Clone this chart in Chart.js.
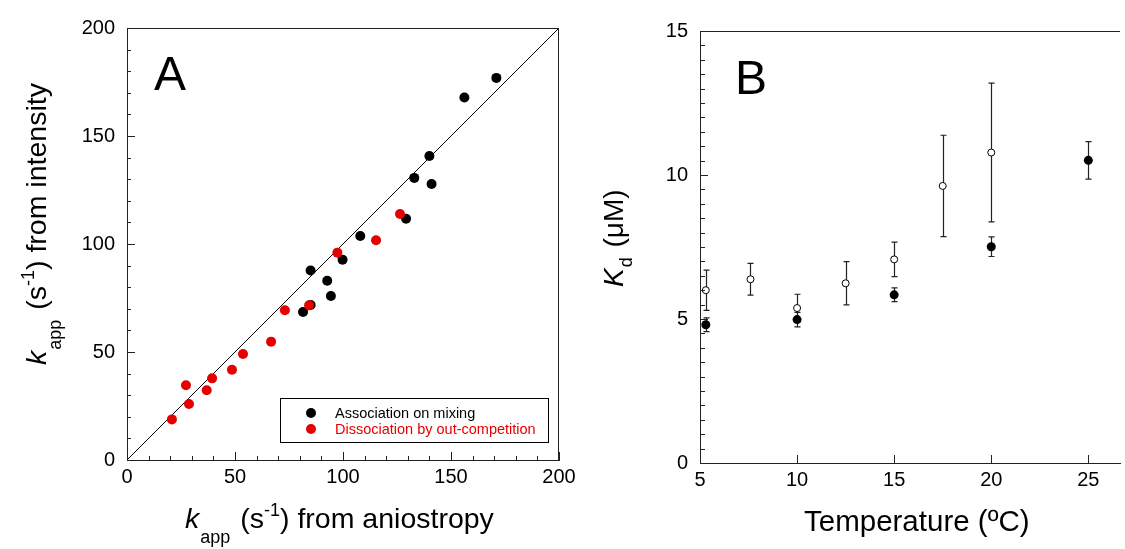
<!DOCTYPE html>
<html>
<head>
<meta charset="utf-8">
<script src="https://cdn.jsdelivr.net/npm/chart.js@4.4.1/dist/chart.umd.min.js"></script>
<style>
  body { margin: 0; background: #fff; }
  #wrapA { position: absolute; left: 0; top: 0; width: 600px; height: 549px; }
  #wrapB { position: absolute; left: 590px; top: 0; width: 535px; height: 549px; }
</style>
</head>
<body>
<div id="wrapA"><canvas id="chartA" width="600" height="549"></canvas></div>
<div id="wrapB"><canvas id="chartB" width="535" height="549"></canvas></div>
<script>
// Panel A: k_app from aniostropy (x) vs from intensity (y)
const assocX = [171.0, 156.2, 140.0, 133.0, 141.0, 129.2, 108.0, 99.8, 85.0, 92.7, 94.4, 85.0, 81.5];
const assocY = [176.9, 167.8, 140.7, 130.6, 127.8, 111.7, 103.7, 92.7, 87.7, 83.0, 75.9, 71.8, 68.5];
const dissX = [126.4, 115.3, 97.4, 73.1, 84.3, 66.7, 53.7, 48.6, 39.4, 27.3, 36.9, 28.7, 20.8];
const dissY = [113.9, 101.7, 96.0, 69.3, 71.6, 54.8, 49.1, 41.8, 37.8, 34.6, 32.3, 25.9, 18.8];
const diagLine = [0, 200];
const ticksA = [0, 50, 100, 150, 200];

// Panel B: Kd vs temperature
const tempOpen = [5.3, 7.6, 10, 12.5, 15, 17.5, 20];
const kdOpen = [6.0, 6.38, 5.38, 6.24, 7.07, 9.62, 10.78];
const errOpen = [0.7, 0.55, 0.48, 0.75, 0.6, 1.76, 2.41];
const tempFilled = [5.3, 10, 15, 20, 25];
const kdFilled = [4.8, 4.98, 5.84, 7.51, 10.51];
const errFilled = [0.24, 0.25, 0.24, 0.34, 0.65];
const ticksBx = [5, 10, 15, 20, 25];
const ticksBy = [0, 5, 10, 15];

const FONT = "'Liberation Sans', Arial, sans-serif";
const RED = '#e60000';

function drawRich(ctx, parts, x, y) {
  let cx = x;
  parts.forEach(p => {
    ctx.font = p.font + ' ' + FONT;
    cx += p.dx || 0;
    ctx.fillText(p.t, cx, y + (p.dy || 0));
    cx += ctx.measureText(p.t).width;
  });
}

function isMajor(v, major) {
  return Math.abs(v / major - Math.round(v / major)) < 1e-6;
}

// frame, inner ticks, axis titles and panel letter
const decor = {
  id: 'decor',
  afterDraw(chart, args, o) {
    const {ctx, chartArea: a, scales: {x, y}} = chart;
    ctx.save();
    ctx.strokeStyle = '#444';
    ctx.lineWidth = 1;
    ctx.beginPath();
    ctx.moveTo(a.left, Math.round(a.top) + 0.5);
    ctx.lineTo(a.right, Math.round(a.top) + 0.5);
    if (o.rightFrame) {
      ctx.moveTo(Math.round(a.right) - 0.5, a.top);
      ctx.lineTo(Math.round(a.right) - 0.5, a.bottom);
    }
    // inner ticks
    ctx.strokeStyle = '#222';
    for (let v = x.min; v <= x.max + 1e-6; v += o.xMinor) {
      const px = Math.round(x.getPixelForValue(v)) + 0.5;
      const len = isMajor(v, o.xMajor) ? o.majorLen : o.minorLen;
      ctx.moveTo(px, a.bottom);
      ctx.lineTo(px, a.bottom - len);
    }
    for (let v = y.min; v <= y.max + 1e-6; v += o.yMinor) {
      const py = Math.round(y.getPixelForValue(v)) + 0.5;
      const len = isMajor(v, o.yMajor) ? o.majorLen : o.minorLen;
      ctx.moveTo(a.left, py);
      ctx.lineTo(a.left + len, py);
    }
    ctx.stroke();

    ctx.fillStyle = '#000';
    ctx.textAlign = 'left';
    ctx.textBaseline = 'alphabetic';
    drawRich(ctx, o.xTitle, o.xTitleAt[0], o.xTitleAt[1]);
    ctx.save();
    ctx.translate(o.yTitleAt[0], o.yTitleAt[1]);
    ctx.rotate(-Math.PI / 2);
    drawRich(ctx, o.yTitle, 0, 0);
    ctx.restore();

    ctx.font = '48px ' + FONT;
    ctx.fillText(o.letter, o.letterAt[0], o.letterAt[1]);

    // boxed legend (panel A)
    if (o.legendBox) {
      const b = o.legendBox;
      ctx.strokeStyle = '#000';
      ctx.strokeRect(b.x + 0.5, b.y + 0.5, b.w, b.h);
      ctx.font = '14.5px ' + FONT;
      b.items.forEach((idx, i) => {
        const ds = chart.data.datasets[idx];
        const cy = b.y + b.rowTop + i * b.rowGap;
        ctx.fillStyle = ds.backgroundColor;
        ctx.beginPath();
        ctx.arc(b.x + b.markX, cy, 5, 0, Math.PI * 2);
        ctx.fill();
        ctx.fillText(ds.label, b.x + b.textX, cy + 5);
      });
    }
    ctx.restore();
  }
};

// vertical error bars with caps (panel B)
const errorBars = {
  id: 'errorBars',
  beforeDatasetsDraw(chart) {
    const {ctx, scales: {x, y}} = chart;
    ctx.save();
    ctx.strokeStyle = '#222';
    ctx.lineWidth = 1.2;
    chart.data.datasets.forEach(ds => {
      if (!ds.err) return;
      ds.data.forEach((p, i) => {
        const px = Math.round(x.getPixelForValue(p.x)) + 0.5;
        const top = y.getPixelForValue(p.y + ds.err[i]);
        const bot = y.getPixelForValue(p.y - ds.err[i]);
        ctx.beginPath();
        ctx.moveTo(px, top); ctx.lineTo(px, bot);
        ctx.moveTo(px - 3, top); ctx.lineTo(px + 3, top);
        ctx.moveTo(px - 3, bot); ctx.lineTo(px + 3, bot);
        ctx.stroke();
      });
    });
    ctx.restore();
  }
};

function axis(min, max, tickVals, fit, pad) {
  return {
    type: 'linear',
    min: min,
    max: max,
    afterBuildTicks: s => { s.ticks = tickVals.map(v => ({value: v})); },
    afterFit: fit,
    grid: {display: false, drawTicks: false},
    border: {display: true, color: '#222', width: 1},
    ticks: {color: '#000', padding: pad, font: {family: FONT, size: 20}}
  };
}

// Panel A
new Chart(document.getElementById('chartA'), {
  type: 'scatter',
  data: {
    datasets: [
      {
        label: 'Dissociation by out-competition',
        data: dissX.map((v, i) => ({x: v, y: dissY[i]})),
        backgroundColor: RED, borderWidth: 0, pointRadius: 5, order: 0
      },
      {
        label: 'Association on mixing',
        data: assocX.map((v, i) => ({x: v, y: assocY[i]})),
        backgroundColor: '#000', borderWidth: 0, pointRadius: 5, order: 1
      },
      {
        label: 'y = x',
        data: diagLine.map(v => ({x: v, y: v})),
        showLine: true, borderColor: '#000', borderWidth: 1, pointRadius: 0, order: 2
      }
    ]
  },
  options: {
    responsive: false,
    animation: false,
    devicePixelRatio: 1,
    layout: {padding: {top: 28, right: 41, left: 0, bottom: 0}},
    scales: {
      x: axis(0, 200, ticksA, s => { s.height = 89; }, 5),
      y: axis(0, 200, ticksA, s => { s.width = 127; }, 12)
    },
    plugins: {
      legend: {display: false},
      tooltip: {enabled: false},
      decor: {
        rightFrame: true,
        xMinor: 10, xMajor: 50, yMinor: 10, yMajor: 50, minorLen: 4, majorLen: 8,
        xTitleAt: [185, 528],
        xTitle: [
          {t: 'k', font: 'italic 28.5px'},
          {t: 'app', font: '18px', dy: 15, dx: 1},
          {t: '(s', font: '28.5px', dx: 10},
          {t: '-1', font: '18px', dy: -12},
          {t: ') from aniostropy', font: '28.5px'}
        ],
        yTitleAt: [46, 365],
        yTitle: [
          {t: 'k', font: 'italic 28.5px'},
          {t: 'app', font: '18px', dy: 15, dx: 1},
          {t: '(s', font: '28.5px', dx: 10},
          {t: '-1', font: '18px', dy: -12},
          {t: ') from intensity', font: '28.5px'}
        ],
        letter: 'A', letterAt: [154, 90],
        legendBox: {x: 280, y: 398, w: 268, h: 44, markX: 31, textX: 55, rowTop: 15, rowGap: 16, items: [1, 0]}
      }
    }
  },
  plugins: [decor]
});

// Panel B
new Chart(document.getElementById('chartB'), {
  type: 'scatter',
  data: {
    datasets: [
      {
        label: 'filled',
        data: tempFilled.map((v, i) => ({x: v, y: kdFilled[i]})),
        err: errFilled,
        backgroundColor: '#000', borderColor: '#000', borderWidth: 0, pointRadius: 4.5, order: 0
      },
      {
        label: 'open',
        data: tempOpen.map((v, i) => ({x: v, y: kdOpen[i]})),
        err: errOpen,
        backgroundColor: '#fff', borderColor: '#000', borderWidth: 1, pointRadius: 3.5, order: 1
      }
    ]
  },
  options: {
    responsive: false,
    animation: false,
    devicePixelRatio: 1,
    layout: {padding: {top: 31, right: 0, left: 0, bottom: 0}},
    scales: {
      x: axis(5, 26.63, ticksBx, s => { s.height = 86; }, 5),
      y: axis(0, 15, ticksBy, s => { s.width = 110; }, 12)
    },
    plugins: {
      legend: {display: false},
      tooltip: {enabled: false},
      decor: {
        rightFrame: false,
        xMinor: 5, xMajor: 5, yMinor: 0.5, yMajor: 5, minorLen: 5, majorLen: 8,
        xTitleAt: [214, 531],
        xTitle: [{t: 'Temperature (ºC)', font: '29.5px'}],
        yTitleAt: [33, 287],
        yTitle: [
          {t: 'K', font: 'italic 28px'},
          {t: 'd', font: '18px', dy: 9, dx: 1},
          {t: ' (μM)', font: '28px', dx: 2}
        ],
        letter: 'B', letterAt: [145, 94]
      }
    }
  },
  plugins: [decor, errorBars]
});
</script>
</body>
</html>
